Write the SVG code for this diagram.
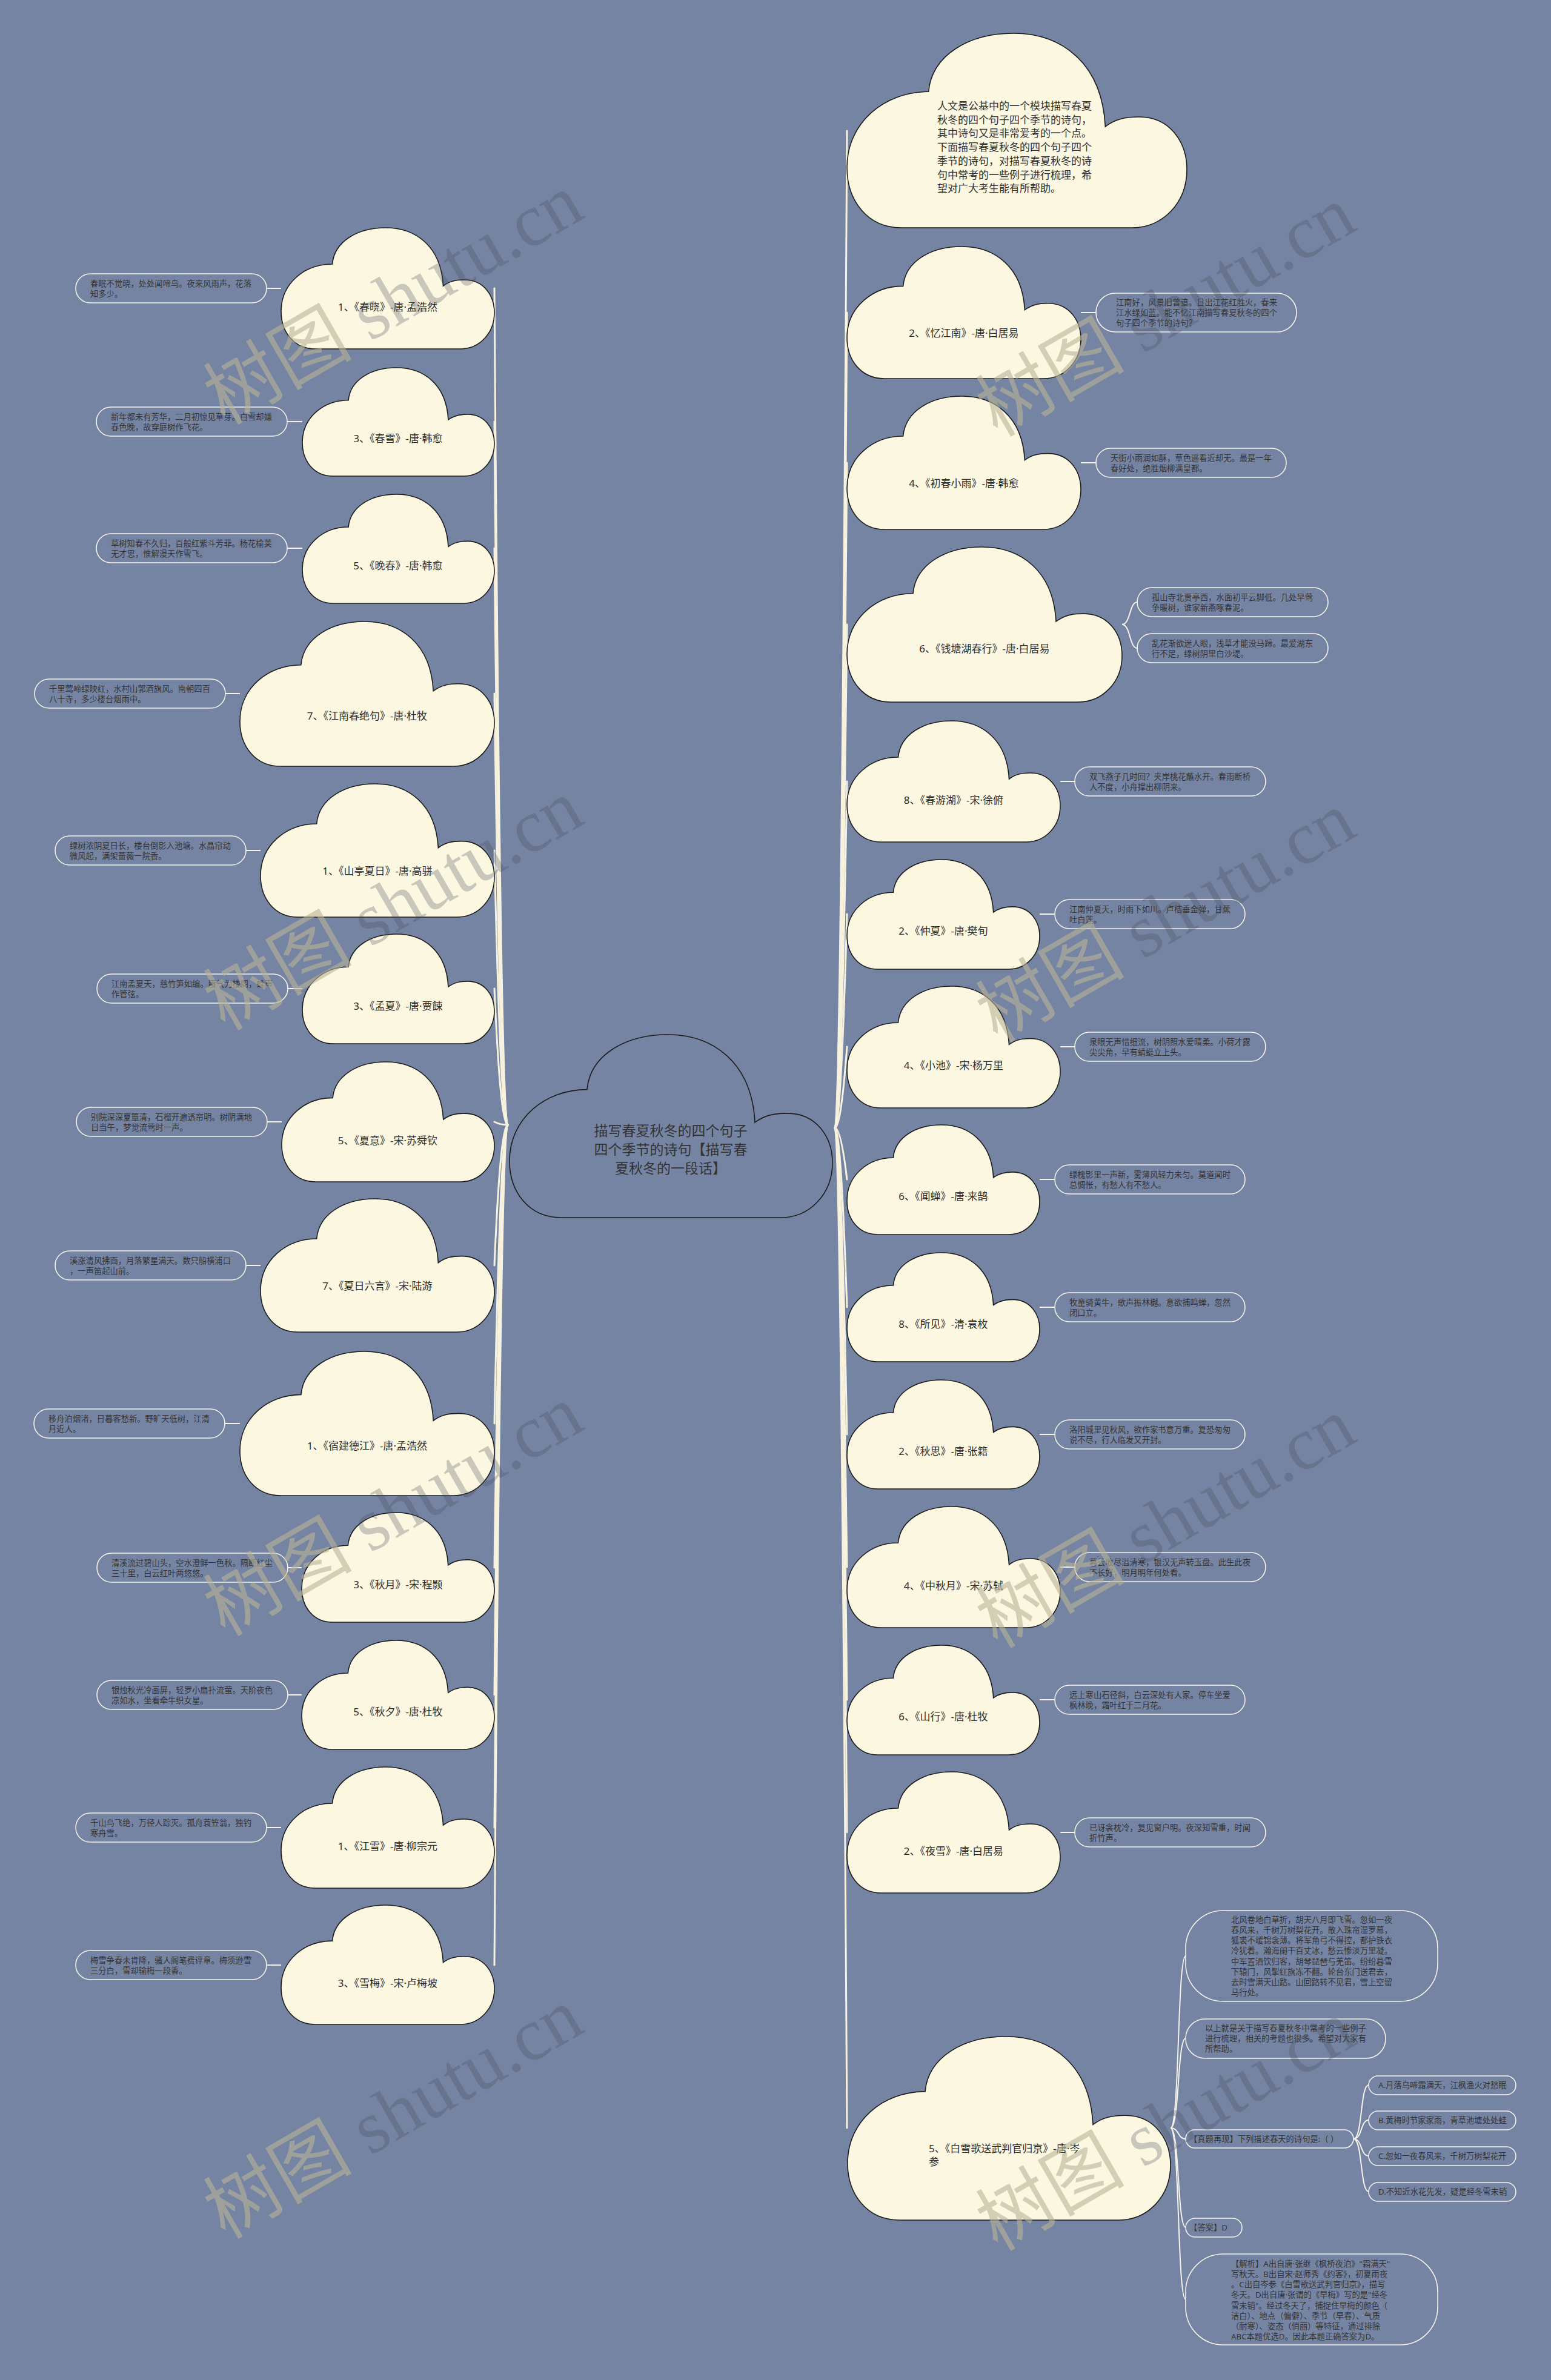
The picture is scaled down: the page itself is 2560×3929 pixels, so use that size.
<svg xmlns="http://www.w3.org/2000/svg" xmlns:xlink="http://www.w3.org/1999/xlink" width="2560" height="3929" viewBox="0 0 2560 3929">
<style>
text{font-family:"Noto Sans","Noto Sans CJK SC",sans-serif;}
.ct{font-size:17px;fill:#2e2e2e;text-anchor:middle;dominant-baseline:central;}
.it{font-size:17px;fill:#2e2e2e;dominant-baseline:central;}
.mt{font-size:23px;fill:#333;text-anchor:middle;dominant-baseline:central;}
.lt{font-size:13.3px;fill:#353535;dominant-baseline:central;}
.lf{fill:none;stroke:#f4f2ea;stroke-width:1.6;}
.cl{fill:#fcf7e1;stroke:#1c1c1c;stroke-width:1.6;}
.cc{fill:none;stroke:#1c1c1c;stroke-width:1.6;}
.tr{fill:none;stroke:#f6f2dd;stroke-width:3;stroke-linecap:round;}
.st{fill:none;stroke:#f4f2ea;stroke-width:2;}
.wm{font-size:123px;text-anchor:middle;}
.w1{fill:#b9b398;fill-opacity:0.6;font-family:"Noto Sans CJK SC",serif;}
.w2{fill:#464c58;fill-opacity:0.28;font-family:"Liberation Serif",serif;}
</style>
<defs>
<path id="cloud" vector-effect="non-scaling-stroke" d="M24,30 C25,11 36,0 49,0 C63,0 75,15 76,48 C79,44 82,43 86,43 C95,43 100,56 100,70 C100,87 93,100 84,100 L16,100 C6,100 0,86 0,69 C0,46 11,30 24,30 Z"/>
</defs>
<rect x="0" y="0" width="2560" height="3929" fill="#7684a3"/>

<g id="connectors">
<path class="tr" d="M816,476 Q826,1857 838,1857"/>
<path class="tr" d="M816,696 Q826,1857 838,1857"/>
<path class="tr" d="M816,905 Q826,1857 838,1857"/>
<path class="tr" d="M816,1145 Q826,1857 838,1857"/>
<path class="tr" d="M816,1404 Q826,1857 838,1857"/>
<path class="tr" d="M816,1632 Q826,1857 838,1857"/>
<path class="tr" d="M816,1852 Q826,1857 838,1857"/>
<path class="tr" d="M816,2089 Q826,1857 838,1857"/>
<path class="tr" d="M816,2350 Q826,1857 838,1857"/>
<path class="tr" d="M816,2588 Q826,1857 838,1857"/>
<path class="tr" d="M816,2798 Q826,1857 838,1857"/>
<path class="tr" d="M816,3017 Q826,1857 838,1857"/>
<path class="tr" d="M816,3244 Q826,1857 838,1857"/>
<path class="tr" d="M1398,216 Q1388,1862 1378,1862"/>
<path class="tr" d="M1398,516 Q1388,1862 1378,1862"/>
<path class="tr" d="M1398,764 Q1388,1862 1378,1862"/>
<path class="tr" d="M1398,1031 Q1388,1862 1378,1862"/>
<path class="tr" d="M1398,1290 Q1388,1862 1378,1862"/>
<path class="tr" d="M1398,1509 Q1388,1862 1378,1862"/>
<path class="tr" d="M1398,1728 Q1388,1862 1378,1862"/>
<path class="tr" d="M1398,1947 Q1388,1862 1378,1862"/>
<path class="tr" d="M1398,2158 Q1388,1862 1378,1862"/>
<path class="tr" d="M1398,2368 Q1388,1862 1378,1862"/>
<path class="tr" d="M1398,2587 Q1388,1862 1378,1862"/>
<path class="tr" d="M1398,2806 Q1388,1862 1378,1862"/>
<path class="tr" d="M1398,3025 Q1388,1862 1378,1862"/>
<path class="tr" d="M1398,3513 Q1388,1862 1378,1862"/>
<path class="st" d="M440,476H464 M474,696H499 M474,905H499 M372,1145H396 M406,1404H430 M475,1632H499 M441,1852H465 M406,2089H430 M371,2350H396 M475,2588H498 M475,2798H498 M440,3017H464 M440,3244H464"/>
<path class="st" d="M1784,516H1809 M1784,764H1809 M1750,1290H1774 M1716,1509H1741 M1750,1728H1774 M1716,1947H1741 M1716,2158H1741 M1716,2368H1741 M1750,2587H1774 M1716,2806H1741 M1750,3025H1774"/>
<path class="st" d="M1852,1031 C1866,1031 1864,994 1877,994 M1852,1031 C1866,1031 1864,1070 1877,1070"/>
<path class="st" d="M1932,3513 C1947,3513 1943,3229 1957,3229 M1932,3513 C1947,3513 1943,3365 1957,3365 M1932,3513 C1947,3513 1943,3531 1957,3531 M1932,3513 C1947,3513 1943,3677 1957,3677 M1932,3513 C1947,3513 1943,3796 1957,3796"/>
<path class="st" d="M2234,3531 C2249,3531 2245,3442 2259,3442 M2234,3531 C2249,3531 2245,3500 2259,3500 M2234,3531 C2249,3531 2245,3559 2259,3559 M2234,3531 C2249,3531 2245,3618 2259,3618"/>
</g>

<g id="center">
<use xlink:href="#cloud" class="cc" transform="translate(841,1708) scale(5.33,3.02)"/>
<text class="mt" x="1107" y="1866">描写春夏秋冬的四个句子</text>
<text class="mt" x="1107" y="1897">四个季节的诗句【描写春</text>
<text class="mt" x="1107" y="1928">夏秋冬的一段话】</text>
</g>

<g id="n-chunxiao"><use xlink:href="#cloud" class="cl" transform="translate(464,376) scale(3.52,2.00)"/><text class="ct" x="640" y="506">1、《春晓》-唐·孟浩然</text></g>
<g id="l-chunxiao"><rect class="lf" x="125" y="452" width="315" height="48" rx="24"/><text class="lt" x="149" y="468">春眠不觉晓，处处闻啼鸟。夜来风雨声，花落</text><text class="lt" x="149" y="485">知多少。</text></g>

<g id="n-chunxue"><use xlink:href="#cloud" class="cl" transform="translate(499,607) scale(3.17,1.79)"/><text class="ct" x="657" y="723">3、《春雪》-唐·韩愈</text></g>
<g id="l-chunxue"><rect class="lf" x="159" y="672" width="315" height="48" rx="24"/><text class="lt" x="183" y="688">新年都未有芳华，二月初惊见草芽。白雪却嫌</text><text class="lt" x="183" y="705">春色晚，故穿庭树作飞花。</text></g>

<g id="n-wanchun"><use xlink:href="#cloud" class="cl" transform="translate(499,816) scale(3.17,1.80)"/><text class="ct" x="657" y="933">5、《晚春》-唐·韩愈</text></g>
<g id="l-wanchun"><rect class="lf" x="159" y="881" width="315" height="48" rx="24"/><text class="lt" x="183" y="897">草树知春不久归，百般红紫斗芳菲。杨花榆荚</text><text class="lt" x="183" y="914">无才思，惟解漫天作雪飞。</text></g>

<g id="n-jiangnanchun"><use xlink:href="#cloud" class="cl" transform="translate(396,1026) scale(4.20,2.39)"/><text class="ct" x="606" y="1181">7、《江南春绝句》-唐·杜牧</text></g>
<g id="l-jiangnanchun"><rect class="lf" x="57" y="1121" width="315" height="48" rx="24"/><text class="lt" x="81" y="1137">千里莺啼绿映红，水村山郭酒旗风。南朝四百</text><text class="lt" x="81" y="1154">八十寺，多少楼台烟雨中。</text></g>

<g id="n-shanting"><use xlink:href="#cloud" class="cl" transform="translate(430,1294) scale(3.86,2.20)"/><text class="ct" x="623" y="1437">1、《山亭夏日》-唐·高骈</text></g>
<g id="l-shanting"><rect class="lf" x="91" y="1380" width="315" height="48" rx="24"/><text class="lt" x="115" y="1396">绿树浓阴夏日长，楼台倒影入池塘。水晶帘动</text><text class="lt" x="115" y="1413">微风起，满架蔷薇一院香。</text></g>

<g id="n-mengxia"><use xlink:href="#cloud" class="cl" transform="translate(499,1542) scale(3.17,1.81)"/><text class="ct" x="657" y="1660">3、《孟夏》-唐·贾餗</text></g>
<g id="l-mengxia"><rect class="lf" x="160" y="1608" width="315" height="48" rx="24"/><text class="lt" x="184" y="1624">江南孟夏天，慈竹笋如编。蜃气为楼阁，蛙声</text><text class="lt" x="184" y="1641">作管弦。</text></g>

<g id="n-xiayi"><use xlink:href="#cloud" class="cl" transform="translate(465,1753) scale(3.51,1.98)"/><text class="ct" x="640" y="1882">5、《夏意》-宋·苏舜钦</text></g>
<g id="l-xiayi"><rect class="lf" x="126" y="1828" width="315" height="48" rx="24"/><text class="lt" x="150" y="1844">别院深深夏簟清，石榴开遍透帘明。树阴满地</text><text class="lt" x="150" y="1861">日当午，梦觉流莺时一声。</text></g>

<g id="n-xiariliuyan"><use xlink:href="#cloud" class="cl" transform="translate(430,1979) scale(3.86,2.20)"/><text class="ct" x="623" y="2122">7、《夏日六言》-宋·陆游</text></g>
<g id="l-xiariliuyan"><rect class="lf" x="91" y="2065" width="315" height="48" rx="24"/><text class="lt" x="115" y="2081">溪涨清风拂面，月落繁星满天。数只船横浦口</text><text class="lt" x="115" y="2098">，一声笛起山前。</text></g>

<g id="n-sujiande"><use xlink:href="#cloud" class="cl" transform="translate(396,2231) scale(4.20,2.38)"/><text class="ct" x="606" y="2386">1、《宿建德江》-唐·孟浩然</text></g>
<g id="l-sujiande"><rect class="lf" x="56" y="2326" width="315" height="48" rx="24"/><text class="lt" x="80" y="2342">移舟泊烟渚，日暮客愁新。野旷天低树，江清</text><text class="lt" x="80" y="2359">月近人。</text></g>

<g id="n-qiuyue"><use xlink:href="#cloud" class="cl" transform="translate(498,2497) scale(3.18,1.81)"/><text class="ct" x="657" y="2615">3、《秋月》-宋·程颢</text></g>
<g id="l-qiuyue"><rect class="lf" x="160" y="2564" width="315" height="48" rx="24"/><text class="lt" x="184" y="2580">清溪流过碧山头，空水澄鲜一色秋。隔断红尘</text><text class="lt" x="184" y="2597">三十里，白云红叶两悠悠。</text></g>

<g id="n-qiuxi"><use xlink:href="#cloud" class="cl" transform="translate(498,2708) scale(3.18,1.80)"/><text class="ct" x="657" y="2825">5、《秋夕》-唐·杜牧</text></g>
<g id="l-qiuxi"><rect class="lf" x="160" y="2774" width="315" height="48" rx="24"/><text class="lt" x="184" y="2790">银烛秋光冷画屏，轻罗小扇扑流萤。天阶夜色</text><text class="lt" x="184" y="2807">凉如水，坐看牵牛织女星。</text></g>

<g id="n-jiangxue"><use xlink:href="#cloud" class="cl" transform="translate(464,2917) scale(3.52,2.00)"/><text class="ct" x="640" y="3047">1、《江雪》-唐·柳宗元</text></g>
<g id="l-jiangxue"><rect class="lf" x="125" y="2993" width="315" height="48" rx="24"/><text class="lt" x="149" y="3009">千山鸟飞绝，万径人踪灭。孤舟蓑笠翁，独钓</text><text class="lt" x="149" y="3026">寒舟雪。</text></g>

<g id="n-xuemei"><use xlink:href="#cloud" class="cl" transform="translate(464,3145) scale(3.52,1.97)"/><text class="ct" x="640" y="3273">3、《雪梅》-宋·卢梅坡</text></g>
<g id="l-xuemei"><rect class="lf" x="125" y="3220" width="315" height="48" rx="24"/><text class="lt" x="149" y="3236">梅雪争春未肯降，骚人阁笔费评章。梅须逊雪</text><text class="lt" x="149" y="3253">三分白，雪却输梅一段香。</text></g>

<g id="n-intro"><use xlink:href="#cloud" class="cl" transform="translate(1398,55) scale(5.61,3.21)"/>
<text class="it" x="1547" y="174">人文是公基中的一个模块描写春夏</text>
<text class="it" x="1547" y="197">秋冬的四个句子四个季节的诗句，</text>
<text class="it" x="1547" y="219">其中诗句又是非常爱考的一个点。</text>
<text class="it" x="1547" y="242">下面描写春夏秋冬的四个句子四个</text>
<text class="it" x="1547" y="265">季节的诗句，对描写春夏秋冬的诗</text>
<text class="it" x="1547" y="288">句中常考的一些例子进行梳理，希</text>
<text class="it" x="1547" y="310">望对广大考生能有所帮助。</text>
</g>

<g id="n-yijiangnan"><use xlink:href="#cloud" class="cl" transform="translate(1398,407) scale(3.86,2.18)"/><text class="ct" x="1591" y="549">2、《忆江南》-唐·白居易</text></g>
<g id="l-yijiangnan"><rect class="lf" x="1809" y="484" width="331" height="64" rx="32"/><text class="lt" x="1842" y="499">江南好，风景旧曾谙。日出江花红胜火，春来</text><text class="lt" x="1842" y="516">江水绿如蓝。能不忆江南描写春夏秋冬的四个</text><text class="lt" x="1842" y="533">句子四个季节的诗句？</text></g>

<g id="n-chuchun"><use xlink:href="#cloud" class="cl" transform="translate(1398,654) scale(3.86,2.20)"/><text class="ct" x="1591" y="797">4、《初春小雨》-唐·韩愈</text></g>
<g id="l-chuchun"><rect class="lf" x="1809" y="740" width="314" height="48" rx="24"/><text class="lt" x="1833" y="756">天街小雨润如酥，草色遥看近却无。最是一年</text><text class="lt" x="1833" y="773">春好处，绝胜烟柳满皇都。</text></g>

<g id="n-qiantang"><use xlink:href="#cloud" class="cl" transform="translate(1398,903) scale(4.54,2.56)"/><text class="ct" x="1625" y="1070">6、《钱塘湖春行》-唐·白居易</text></g>
<g id="l-qiantang1"><rect class="lf" x="1877" y="970" width="315" height="48" rx="24"/><text class="lt" x="1901" y="986">孤山寺北贾亭西，水面初平云脚低。几处早莺</text><text class="lt" x="1901" y="1003">争暖树，谁家新燕啄春泥。</text></g>
<g id="l-qiantang2"><rect class="lf" x="1877" y="1046" width="315" height="48" rx="24"/><text class="lt" x="1901" y="1062">乱花渐欲迷人眼，浅草才能没马蹄。最爱湖东</text><text class="lt" x="1901" y="1079">行不足，绿树阴里白沙堤。</text></g>

<g id="n-chunyouhu"><use xlink:href="#cloud" class="cl" transform="translate(1398,1190) scale(3.52,2.00)"/><text class="ct" x="1574" y="1320">8、《春游湖》-宋·徐俯</text></g>
<g id="l-chunyouhu"><rect class="lf" x="1774" y="1266" width="315" height="48" rx="24"/><text class="lt" x="1798" y="1282">双飞燕子几时回？夹岸桃花蘸水开。春雨断桥</text><text class="lt" x="1798" y="1299">人不度，小舟撑出柳阴来。</text></g>

<g id="n-zhongxia"><use xlink:href="#cloud" class="cl" transform="translate(1398,1419) scale(3.18,1.81)"/><text class="ct" x="1557" y="1536">2、《仲夏》-唐·樊旬</text></g>
<g id="l-zhongxia"><rect class="lf" x="1741" y="1485" width="314" height="48" rx="24"/><text class="lt" x="1765" y="1501">江南仲夏天，时雨下如川。卢桔垂金弹，甘蕉</text><text class="lt" x="1765" y="1518">吐白莲。</text></g>

<g id="n-xiaochi"><use xlink:href="#cloud" class="cl" transform="translate(1398,1628) scale(3.52,2.01)"/><text class="ct" x="1574" y="1758">4、《小池》-宋·杨万里</text></g>
<g id="l-xiaochi"><rect class="lf" x="1774" y="1704" width="315" height="48" rx="24"/><text class="lt" x="1798" y="1720">泉眼无声惜细流，树阴照水爱晴柔。小荷才露</text><text class="lt" x="1798" y="1737">尖尖角，早有蜻蜓立上头。</text></g>

<g id="n-wenchan"><use xlink:href="#cloud" class="cl" transform="translate(1398,1857) scale(3.18,1.81)"/><text class="ct" x="1557" y="1974">6、《闻蝉》-唐·来鹄</text></g>
<g id="l-wenchan"><rect class="lf" x="1741" y="1923" width="314" height="48" rx="24"/><text class="lt" x="1765" y="1939">绿槐影里一声新，雾薄风轻力未匀。莫道闻时</text><text class="lt" x="1765" y="1956">总惆怅，有愁人有不愁人。</text></g>

<g id="n-suojian"><use xlink:href="#cloud" class="cl" transform="translate(1398,2068) scale(3.18,1.80)"/><text class="ct" x="1557" y="2185">8、《所见》-清·袁枚</text></g>
<g id="l-suojian"><rect class="lf" x="1741" y="2134" width="314" height="48" rx="24"/><text class="lt" x="1765" y="2150">牧童骑黄牛，歌声振林樾。意欲捕鸣蝉，忽然</text><text class="lt" x="1765" y="2167">闭口立。</text></g>

<g id="n-qiusi"><use xlink:href="#cloud" class="cl" transform="translate(1398,2278) scale(3.18,1.80)"/><text class="ct" x="1557" y="2395">2、《秋思》-唐·张籍</text></g>
<g id="l-qiusi"><rect class="lf" x="1741" y="2344" width="314" height="48" rx="24"/><text class="lt" x="1765" y="2360">洛阳城里见秋风，欲作家书意万重。复恐匆匆</text><text class="lt" x="1765" y="2377">说不尽，行人临发又开封。</text></g>

<g id="n-zhongqiu"><use xlink:href="#cloud" class="cl" transform="translate(1398,2487) scale(3.52,2.00)"/><text class="ct" x="1574" y="2617">4、《中秋月》-宋·苏轼</text></g>
<g id="l-zhongqiu"><rect class="lf" x="1774" y="2563" width="315" height="48" rx="24"/><text class="lt" x="1798" y="2579">暮云收尽溢清寒，银汉无声转玉盘。此生此夜</text><text class="lt" x="1798" y="2596">不长好，明月明年何处看。</text></g>

<g id="n-shanxing"><use xlink:href="#cloud" class="cl" transform="translate(1398,2716) scale(3.18,1.81)"/><text class="ct" x="1557" y="2833">6、《山行》-唐·杜牧</text></g>
<g id="l-shanxing"><rect class="lf" x="1741" y="2782" width="314" height="48" rx="24"/><text class="lt" x="1765" y="2798">远上寒山石径斜，白云深处有人家。停车坐爱</text><text class="lt" x="1765" y="2815">枫林晚，霜叶红于二月花。</text></g>

<g id="n-yexue"><use xlink:href="#cloud" class="cl" transform="translate(1398,2925) scale(3.52,2.00)"/><text class="ct" x="1574" y="3055">2、《夜雪》-唐·白居易</text></g>
<g id="l-yexue"><rect class="lf" x="1774" y="3001" width="315" height="48" rx="24"/><text class="lt" x="1798" y="3017">已讶衾枕冷，复见窗户明。夜深知雪重，时闻</text><text class="lt" x="1798" y="3034">折竹声。</text></g>

<g id="n-baixuege"><use xlink:href="#cloud" class="cl" transform="translate(1399,3362) scale(5.33,3.03)"/><text class="it" x="1533" y="3546">5、《白雪歌送武判官归京》-唐·岑</text><text class="it" x="1533" y="3568">参</text></g>
<g id="l-poem"><rect class="lf" x="1957" y="3154" width="416" height="150" rx="62"/>
<text class="lt" x="2032" y="3169">北风卷地白草折，胡天八月即飞雪。忽如一夜</text>
<text class="lt" x="2032" y="3186">春风来，千树万树梨花开。散入珠帘湿罗幕，</text>
<text class="lt" x="2032" y="3203">狐裘不暖锦衾薄。将军角弓不得控，都护铁衣</text>
<text class="lt" x="2032" y="3220">冷犹着。瀚海阑干百丈冰，愁云惨淡万里凝。</text>
<text class="lt" x="2032" y="3238">中军置酒饮归客，胡琴琵琶与羌笛。纷纷暮雪</text>
<text class="lt" x="2032" y="3255">下辕门，风掣红旗冻不翻。轮台东门送君去，</text>
<text class="lt" x="2032" y="3272">去时雪满天山路。山回路转不见君，雪上空留</text>
<text class="lt" x="2032" y="3289">马行处。</text>
</g>
<g id="l-summary"><rect class="lf" x="1957" y="3333" width="330" height="65" rx="32"/>
<text class="lt" x="1989" y="3348">以上就是关于描写春夏秋冬中常考的一些例子</text>
<text class="lt" x="1989" y="3365">进行梳理，相关的考题也很多。希望对大家有</text>
<text class="lt" x="1989" y="3382">所帮助。</text>
</g>
<g id="l-question"><rect class="lf" x="1957" y="3516" width="277" height="30" rx="15"/><text class="lt" x="1963" y="3531">【真题再现】下列描述春天的诗句是:（ ）</text></g>
<g id="l-optA"><rect class="lf" x="2259" y="3427" width="243" height="31" rx="15.5"/><text class="lt" x="2275" y="3442">A.月落乌啼霜满天，江枫渔火对愁眠</text></g>
<g id="l-optB"><rect class="lf" x="2259" y="3485" width="243" height="31" rx="15.5"/><text class="lt" x="2275" y="3500">B.黄梅时节家家雨，青草池塘处处蛙</text></g>
<g id="l-optC"><rect class="lf" x="2259" y="3544" width="243" height="31" rx="15.5"/><text class="lt" x="2275" y="3559">C.忽如一夜春风来，千树万树梨花开</text></g>
<g id="l-optD"><rect class="lf" x="2259" y="3603" width="243" height="31" rx="15.5"/><text class="lt" x="2275" y="3618">D.不知近水花先发，疑是经冬雪未销</text></g>
<g id="l-answer"><rect class="lf" x="1957" y="3662" width="93" height="31" rx="15.5"/><text class="lt" x="1963" y="3677">【答案】D</text></g>
<g id="l-analysis"><rect class="lf" x="1957" y="3721" width="416" height="150" rx="62"/>
<text class="lt" x="2032" y="3737">【解析】A出自唐·张继《枫桥夜泊》"霜满天"</text>
<text class="lt" x="2032" y="3754">写秋天。B出自宋·赵师秀《约客》，初夏雨夜</text>
<text class="lt" x="2032" y="3771">。C出自岑参《白雪歌送武判官归京》，描写</text>
<text class="lt" x="2032" y="3788">冬天。D出自唐·张谓的《早梅》写的是"经冬</text>
<text class="lt" x="2032" y="3806">雪未销"。经过冬天了，捕捉住早梅的颜色（</text>
<text class="lt" x="2032" y="3823">洁白）、地点（偏僻）、季节（早春）、气质</text>
<text class="lt" x="2032" y="3840">（耐寒）、姿态（俏丽）等特征，通过排除</text>
<text class="lt" x="2032" y="3857">ABC本题优选D。因此本题正确答案为D。</text>
</g>

<g id="watermarks">
<text class="wm" transform="translate(670,530) rotate(-30)"><tspan class="w1">树图</tspan><tspan class="w2"> shutu.cn</tspan></text>
<text class="wm" transform="translate(670,1530) rotate(-30)"><tspan class="w1">树图</tspan><tspan class="w2"> shutu.cn</tspan></text>
<text class="wm" transform="translate(670,2530) rotate(-30)"><tspan class="w1">树图</tspan><tspan class="w2"> shutu.cn</tspan></text>
<text class="wm" transform="translate(670,3525) rotate(-30)"><tspan class="w1">树图</tspan><tspan class="w2"> shutu.cn</tspan></text>
<text class="wm" transform="translate(1945,550) rotate(-30)"><tspan class="w1">树图</tspan><tspan class="w2"> shutu.cn</tspan></text>
<text class="wm" transform="translate(1945,1550) rotate(-30)"><tspan class="w1">树图</tspan><tspan class="w2"> shutu.cn</tspan></text>
<text class="wm" transform="translate(1945,2550) rotate(-30)"><tspan class="w1">树图</tspan><tspan class="w2"> shutu.cn</tspan></text>
<text class="wm" transform="translate(1945,3545) rotate(-30)"><tspan class="w1">树图</tspan><tspan class="w2"> shutu.cn</tspan></text>
</g>
</svg>
